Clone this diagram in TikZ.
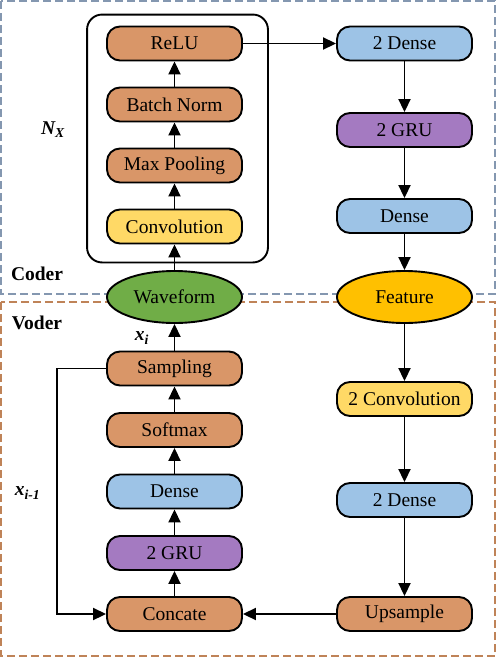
\documentclass[tikz,border=0pt]{standalone}
\usepackage{fontspec}
\setmainfont{Liberation Serif}
\usetikzlibrary{positioning,shapes.geometric,arrows.meta}

\definecolor{orangebox}{RGB}{217,150,104}
\definecolor{bluebox}{RGB}{157,195,230}
\definecolor{purplebox}{RGB}{164,122,193}
\definecolor{yellowbox}{RGB}{255,217,102}
\definecolor{greenwave}{RGB}{112,173,71}
\definecolor{goldfeat}{RGB}{255,192,0}
\definecolor{coderline}{RGB}{132,151,176}
\definecolor{voderline}{RGB}{191,131,88}

\tikzset{
 layer/.style={draw,rounded corners=13pt,minimum width=135pt,minimum height=34pt,inner sep=0pt},
 signal/.style={draw,ellipse,minimum width=135pt,minimum height=52pt,inner sep=0pt},
 frame/.style={dash pattern=on 8pt off 4pt,line width=1.1pt},
}

\begin{document}
\begin{tikzpicture}[x=1pt,y=-1pt,on grid,line width=1.9pt,>={Triangle[length=13pt,width=12pt]},
 font=\fontsize{19.5}{22}\selectfont]
 \useasboundingbox (0,0) rectangle (498,659);
 \draw[frame,coderline] (1,1) rectangle (495,294);
 \draw[frame,voderline] (1,302) rectangle (495,656);

 % coder
 \node[layer,fill=orangebox] (relu) at (174.5,43.5) {ReLU};
 \node[layer,fill=orangebox] (bn)[below=61pt of relu] {Batch Norm};
 \node[layer,fill=orangebox] (mp)[below=61pt of bn] {Max Pooling};
 \node[layer,fill=yellowbox] (conv)[below=61pt of mp] {Convolution};
 \node[signal,fill=greenwave] (wave)[below=70.5pt of conv] {Waveform};
 \draw[rounded corners=15pt] ([xshift=-19pt,yshift=11pt]relu.north west) rectangle ([xshift=25pt,yshift=-18pt]conv.south east);

 \node[layer,fill=bluebox] (cdense2) at (404.5,43.5) {2 Dense};
 \node[layer,fill=purplebox] (cgru)[below=86.5pt of cdense2] {2 GRU};
 \node[layer,fill=bluebox] (cdense)[below=86pt of cgru] {Dense};
 \node[signal,fill=goldfeat] (feat)[below=81pt of cdense] {Feature};

 % voder
 \node[layer,fill=orangebox] (samp)[below=71.5pt of wave] {Sampling};
 \node[layer,fill=orangebox] (soft)[below=61.5pt of samp] {Softmax};
 \node[layer,fill=bluebox] (vdense)[below=61.5pt of soft] {Dense};
 \node[layer,fill=purplebox] (vgru)[below=61.5pt of vdense] {2 GRU};
 \node[layer,fill=orangebox] (concat)[below=61pt of vgru] {Concate};

 \node[layer,fill=yellowbox] (conv2)[below=102pt of feat] {2 Convolution};
 \node[layer,fill=bluebox] (vdense2)[below=101pt of conv2] {2 Dense};
 \node[layer,fill=orangebox] (ups)[below=114pt of vdense2] {Upsample};

 % labels
 \node (nx) at (53,130) {\textbf{\textit{N\textsubscript{X}}}};
 \node (coder) at (37,274) {\textbf{Coder}};
 \node (voder) at (37,323) {\textbf{Voder}};
 \node (xi) at (142,338) {\textbf{\textit{x\textsubscript{i}}}};
 \node (xprev) at (27.5,493) {\textbf{\textit{x\textsubscript{i-1}}}};

 \path[->]
 (wave) edge (conv)
 (conv) edge (mp)
 (mp) edge (bn)
 (bn) edge (relu)
 (relu) edge (cdense2)
 (cdense2) edge (cgru)
 (cgru) edge (cdense)
 (cdense) edge (feat)
 (feat) edge (conv2)
 (conv2) edge (vdense2)
 (vdense2) edge (ups)
 (ups) edge (concat)
 (concat) edge (vgru)
 (vgru) edge (vdense)
 (vdense) edge (soft)
 (soft) edge (samp)
 (samp) edge (wave);
 \draw[->] (samp.west) -- ++(-49,0) |- (concat.west);
\end{tikzpicture}
\end{document}
